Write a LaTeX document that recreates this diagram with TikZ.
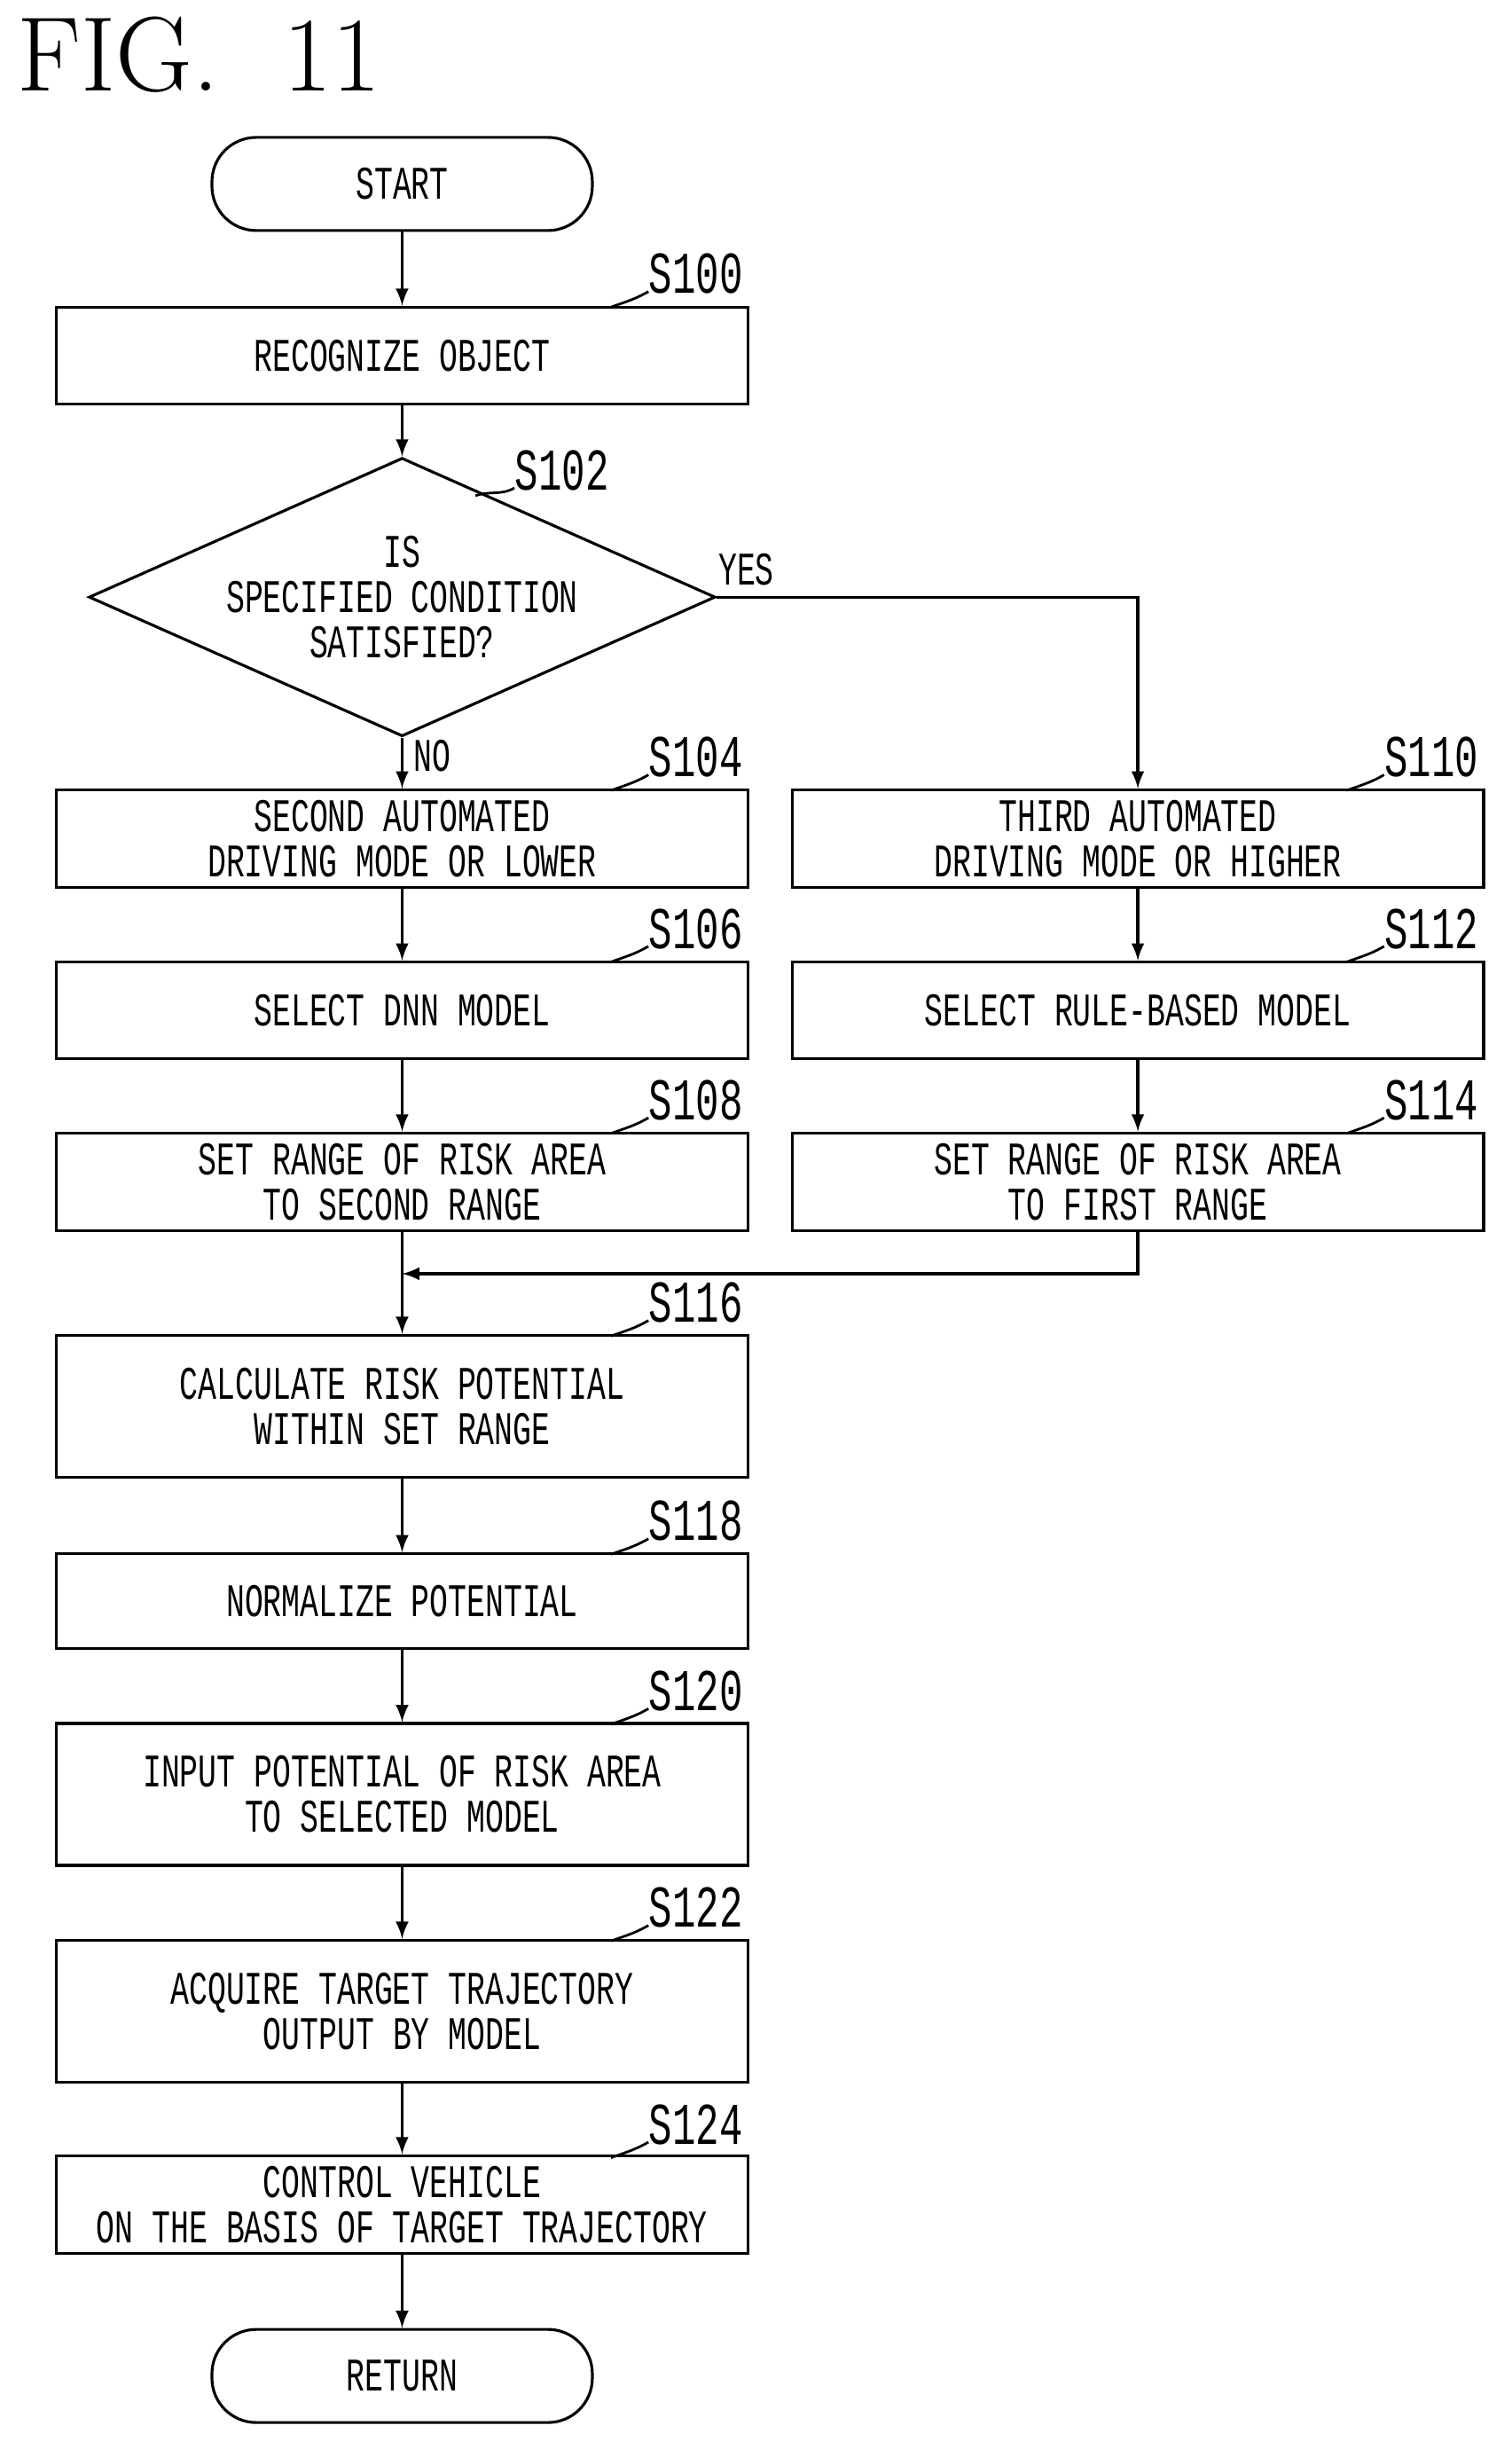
\documentclass[tikz,border=0pt]{standalone}
\usepackage{fontspec}
\newfontfamily\flowfont[FakeStretch=0.66]{Liberation Mono}
\usepackage{tikz}
\usetikzlibrary{positioning,shapes,arrows,calc}

\tikzset{
  proc/.style={draw,line width=0.9pt,minimum width=7.8cm,align=center,font=\flowfont\fontsize{15}{14.5}\selectfont},
  term/.style={draw,line width=0.9pt,rounded corners=0.5cm,minimum width=4.29cm,minimum height=1.05cm,font=\flowfont\fontsize{15}{14.5}\selectfont},
  cond/.style={draw,line width=0.9pt,diamond,aspect=2.25,inner sep=0pt,minimum width=6.4cm,minimum height=2.85cm,align=center,font=\flowfont\fontsize{15}{14.5}\selectfont},
  tag/.style={font=\flowfont\fontsize{19}{19}\selectfont,anchor=south west,inner sep=1pt},
  flow/.style={line width=0.9pt,-latex},
  lbl/.style={font=\flowfont\fontsize{15}{15}\selectfont}
}

\begin{document}
\begin{tikzpicture}[x=0.01758cm,y=-0.01758cm]
\useasboundingbox (0,0) rectangle (970,1576);
\node[anchor=north west,font=\fontsize{34}{34}\selectfont] (fig) at (4,4) {FIG.\ \ 11};

% Terminals
\node[term] (start) at (258,118) {START};
\node[term] (ret) at (258,1524) {RETURN};

% Left column
\node[proc,minimum height=1.09cm] (s100) at (258,228) {RECOGNIZE OBJECT};
\node[cond] (s102) at (258,383) {IS\\SPECIFIED CONDITION\\SATISFIED?};
\node[proc,minimum height=1.09cm] (s104) at (258,538) {SECOND AUTOMATED\\DRIVING MODE OR LOWER};
\node[proc,minimum height=1.09cm] (s106) at (258,648) {SELECT DNN MODEL};
\node[proc,minimum height=1.09cm] (s108) at (258,758) {SET RANGE OF RISK AREA\\TO SECOND RANGE};
\node[proc,minimum height=1.6cm] (s116) at (258,902) {CALCULATE RISK POTENTIAL\\WITHIN SET RANGE};
\node[proc,minimum height=1.07cm] (s118) at (258,1027) {NORMALIZE POTENTIAL};
\node[proc,minimum height=1.6cm] (s120) at (258,1151) {INPUT POTENTIAL OF RISK AREA\\TO SELECTED MODEL};
\node[proc,minimum height=1.6cm] (s122) at (258,1290) {ACQUIRE TARGET TRAJECTORY\\OUTPUT BY MODEL};
\node[proc,minimum height=1.07cm] (s124) at (258,1414) {CONTROL VEHICLE\\ON THE BASIS OF TARGET TRAJECTORY};

% Right column
\node[proc,minimum height=1.09cm] (s110) at (730,538) {THIRD AUTOMATED\\DRIVING MODE OR HIGHER};
\node[proc,minimum height=1.09cm] (s112) at (730,648) {SELECT RULE-BASED MODEL};
\node[proc,minimum height=1.09cm] (s114) at (730,758) {SET RANGE OF RISK AREA\\TO FIRST RANGE};

% Step tags
\foreach \n/\t/\x/\y in {s100/S100/414/191, s102/S102/328/317, s104/S104/414/501, s106/S106/414/611,
  s108/S108/414/721, s110/S110/886/501, s112/S112/886/611, s114/S114/886/721, s116/S116/414/851,
  s118/S118/414/991, s120/S120/414/1100, s122/S122/414/1239, s124/S124/414/1378}
  \node[tag] (t\n) at (\x,\y) {\t};
\foreach \n/\x/\y in {s100/392/197, s104/392/507, s106/392/617, s108/392/727, s110/864/507, s112/864/617,
  s114/864/727, s116/392/857, s118/392/997, s120/392/1106, s122/392/1245, s124/392/1384}
  \draw[line width=0.8pt] (\x,\y) to[out=20,in=210] ($(t\n.south west)+(2,-4)$);
\draw[line width=0.8pt] (305,318) to[out=20,in=210] ($(ts102.south west)+(2,-4)$);

% Connectors
\draw[flow] (start) -- (s100);
\draw[flow] (s100) -- (s102);
\draw[flow] (s102) -- node[lbl,right,pos=0.35] {NO} (s104);
\draw[flow] (s102.east) -- node[lbl,above,pos=0.07] {YES} (s110.north |- s102.east) -- (s110);
\draw[flow] (s104) -- (s106);
\draw[flow] (s106) -- (s108);
\draw[flow] (s110) -- (s112);
\draw[flow] (s112) -- (s114);
\coordinate (join) at (258,817);
\draw[flow] (s108) -- (s116);
\draw[flow] (s114) |- (join);
\draw[flow] (s116) -- (s118);
\draw[flow] (s118) -- (s120);
\draw[flow] (s120) -- (s122);
\draw[flow] (s122) -- (s124);
\draw[flow] (s124) -- (ret);
\end{tikzpicture}
\end{document}
